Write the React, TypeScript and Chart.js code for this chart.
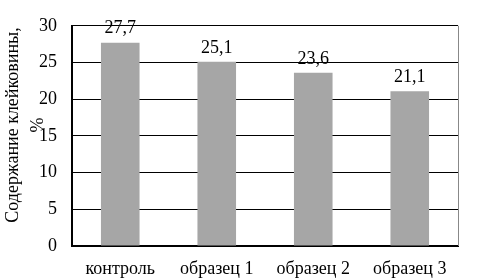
import React, { useEffect, useRef } from "react";
import { Chart, registerables } from "chart.js";

Chart.register(...registerables);

const categories = ["контроль", "образец 1", "образец 2", "образец 3"];
const values = [27.7, 25.1, 23.6, 21.1];
const yTicks = [0, 5, 10, 15, 20, 25, 30];
const yTitle = ["Содержание клейковины,", "%"];

const FONT = "'Liberation Serif', 'Times New Roman', serif";

const extrasPlugin = {
  id: "extras",
  afterDatasetsDraw(chart: any) {
    const { ctx, chartArea } = chart;
    const meta = chart.getDatasetMeta(0);
    ctx.save();
    ctx.font = `18px ${FONT}`;
    ctx.fillStyle = "#000";
    ctx.textAlign = "center";
    ctx.textBaseline = "bottom";
    meta.data.forEach((bar: any, i: number) => {
      const label = values[i].toFixed(1).replace(".", ",");
      ctx.fillText(label, bar.x, bar.y - 5);
    });
    // right border
    ctx.strokeStyle = "#888";
    ctx.lineWidth = 1;
    ctx.beginPath();
    ctx.moveTo(chartArea.right + 0.5, chartArea.top);
    ctx.lineTo(chartArea.right + 0.5, chartArea.bottom);
    ctx.stroke();
    // y title
    ctx.fillStyle = "#000";
    ctx.textBaseline = "middle";
    ctx.translate(0, 125);
    ctx.rotate(-Math.PI / 2);
    ctx.fillText(yTitle[0], 0, 13);
    ctx.fillText(yTitle[1], 0, 38);
    ctx.restore();
  },
};

export default function App() {
  const ref = useRef<HTMLCanvasElement>(null);
  useEffect(() => {
    document.body.style.margin = "0";
    const chart = new Chart(ref.current!, {
      type: "bar",
      data: {
        labels: categories,
        datasets: [
          {
            data: values,
            backgroundColor: "#a6a6a6",
            barPercentage: 0.4,
            categoryPercentage: 1,
          },
        ],
      },
      options: {
        animation: false,
        responsive: false,
        devicePixelRatio: 1,
        layout: { padding: { top: 23, right: 33, left: 0, bottom: 0 } },
        plugins: { legend: { display: false }, tooltip: { enabled: false } },
        scales: {
          x: {
            grid: { display: false, drawTicks: false },
            border: { color: "#000", width: 2 },
            ticks: { color: "#000", font: { family: FONT, size: 18 }, padding: 12 },
            afterFit: (s: any) => {
              s.height = 34;
            },
          },
          y: {
            min: 0,
            max: 30,
            afterBuildTicks: (s: any) => {
              s.ticks = yTicks.map((v) => ({ value: v }));
            },
            grid: { color: "#000", drawTicks: false },
            border: { color: "#000", width: 2 },
            ticks: { color: "#000", font: { family: FONT, size: 18 }, padding: 15 },
            afterFit: (s: any) => {
              s.width = 72;
            },
          },
        },
      },
      plugins: [extrasPlugin],
    });
    return () => chart.destroy();
  }, []);
  return (
    <div style={{ width: 491, height: 280 }}>
      <canvas ref={ref} width={491} height={280} />
    </div>
  );
}
